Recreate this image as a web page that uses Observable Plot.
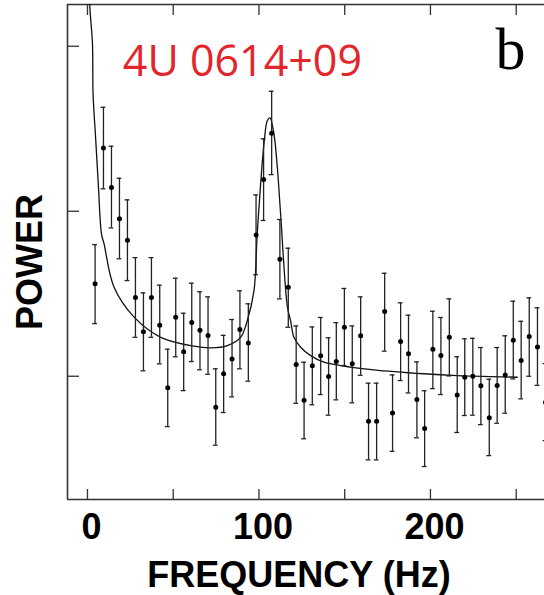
<!DOCTYPE html>
<html>
<head>
<meta charset="utf-8">
<script src="https://cdn.jsdelivr.net/npm/d3@7"></script>
<script src="https://cdn.jsdelivr.net/npm/@observablehq/plot@0.6"></script>
<style>
  html, body { margin: 0; padding: 0; background: #fff; }
  #chart svg { display: block; }
</style>
</head>
<body>
<div id="chart"></div>
<script>
// Observed power spectrum: frequency (Hz), power, lower and upper error
const freq  = [4.43, 9.32, 13.99, 18.65, 23.31, 27.97, 32.63, 37.30, 42.13, 46.80,
               51.46, 56.10, 60.80, 65.60, 70.30, 74.80, 79.40, 84.30, 88.90, 93.80,
               98.30, 102.70, 107.40, 112.20, 117.10, 121.70, 126.30, 131.10, 136.00, 140.60,
               145.10, 149.80, 154.40, 159.30, 163.90, 168.60, 173.30, 177.90, 182.60, 187.20,
               192.10, 196.60, 201.40, 206.10, 211.00, 215.60, 220.00, 224.70, 229.40, 234.30,
               238.90, 243.60, 248.30, 252.90, 257.60, 262.40, 267.10];
const power = [1.560, 2.384, 2.144, 1.954, 1.824, 1.477, 1.269, 1.477, 1.309, 0.930,
               1.358, 1.148, 1.325, 1.279, 1.247, 0.812, 1.015, 1.105, 1.283, 1.202,
               1.856, 2.192, 2.473, 1.709, 1.539, 1.071, 0.855, 1.063, 1.124, 0.998,
               1.089, 1.297, 1.075, 1.245, 0.727, 0.727, 1.392, 0.778, 1.210, 1.136,
               0.859, 0.683, 1.164, 1.125, 1.236, 0.887, 0.994, 1.000, 0.942, 0.748,
               0.944, 1.008, 1.218, 1.095, 1.241, 1.178, 0.841];
const errLo = [1.319, 2.136, 1.899, 1.712, 1.580, 1.236, 1.033, 1.236, 1.075, 0.695,
               1.118, 0.913, 1.089, 1.039, 1.012, 0.582, 0.780, 0.875, 1.045, 0.970,
               1.615, 1.944, 2.222, 1.469, 1.297, 0.836, 0.621, 0.827, 0.889, 0.764,
               0.857, 1.065, 0.839, 1.006, 0.493, 0.493, 1.152, 0.545, 0.974, 0.899,
               0.627, 0.453, 0.925, 0.889, 1.002, 0.659, 0.762, 0.764, 0.707, 0.519,
               0.715, 0.776, 0.984, 0.863, 1.000, 0.945, 0.610];
const errHi = [1.798, 2.630, 2.394, 2.200, 2.069, 1.719, 1.505, 1.719, 1.552, 1.164,
               1.594, 1.382, 1.564, 1.512, 1.481, 1.045, 1.248, 1.344, 1.518, 1.439,
               2.099, 2.439, 2.727, 1.950, 1.776, 1.305, 1.085, 1.299, 1.356, 1.233,
               1.325, 1.532, 1.305, 1.481, 0.958, 0.958, 1.624, 1.008, 1.445, 1.370,
               1.087, 0.912, 1.394, 1.356, 1.469, 1.118, 1.227, 1.230, 1.174, 0.982,
               1.174, 1.245, 1.455, 1.333, 1.475, 1.415, 1.077];

// Fitted model curve
const modelFreq  = [0.9, 1.34, 2.91, 3.26, 4.84, 6.41, 8.16, 9.67, 15.5, 27.2, 42.7, 62.1, 71.9, 81.6,
                    89.3, 93.2, 97.1, 99.1, 103.1, 104.9, 106.4, 108.7, 110.7, 112.6, 116.6,
                    118.4, 120.4, 124.3, 130.1, 137.9, 147.6, 167.0, 196.2, 215.6, 235.0, 250.6];
const modelPower = [3.60, 3.249, 3.015, 2.712, 2.428, 2.145, 1.863, 1.802, 1.539, 1.358, 1.236, 1.182, 1.172, 1.186,
                    1.236, 1.338, 1.519, 1.883, 2.428, 2.550, 2.566, 2.471, 2.267, 1.986, 1.418,
                    1.338, 1.236, 1.176, 1.125, 1.085, 1.065, 1.039, 1.015, 1.004, 0.998, 0.994];

const xTicksMajor = [0, 100, 200];
const xTicksMinor = [0, 50, 100, 150, 200, 250];
const yTicks = [1, 2, 3];

const title = "4U 0614+09";
const panelLabel = "b";
const xLabel = "FREQUENCY (Hz)";
const yLabel = "POWER";

// Build tables
const points = freq.map((f, i) => ({f, p: power[i], lo: errLo[i], hi: errHi[i]}));
const model = modelFreq.map((f, i) => ({f, p: modelPower[i]}));

const xDomain = [-11.65, 266.5];
const yDomain = [0.253, 3.253];
const xPx = (544 - 67) / (xDomain[1] - xDomain[0]);
const yPx = (499 - 4) / (yDomain[1] - yDomain[0]);
const capHalf = 2.4 / xPx;
const sans = "'Liberation Sans', Arial, Helvetica, sans-serif";
const axisColor = "#333";

const chart = Plot.plot({
  width: 544,
  height: 595,
  marginLeft: 67,
  marginRight: 0,
  marginTop: 4,
  marginBottom: 96,
  x: {domain: xDomain, axis: null},
  y: {domain: yDomain, axis: null},
  marks: [
    // frame: left, top, bottom
    Plot.ruleX([xDomain[0]], {y1: yDomain[0], y2: yDomain[1], stroke: axisColor, strokeWidth: 1.6}),
    Plot.ruleY([yDomain[0], yDomain[1]], {stroke: axisColor, strokeWidth: 1.6}),
    // inward ticks
    Plot.ruleX(xTicksMinor, {y1: yDomain[0], y2: yDomain[0] + 10 / yPx, stroke: axisColor, strokeWidth: 1.3}),
    Plot.ruleX(xTicksMinor, {y1: yDomain[1], y2: yDomain[1] - 11 / yPx, stroke: axisColor, strokeWidth: 1.3}),
    Plot.ruleY(yTicks, {x1: xDomain[0], x2: xDomain[0] + 12 / xPx, stroke: axisColor, strokeWidth: 1.3}),
    // tick labels
    Plot.text(xTicksMajor, {x: d => d, frameAnchor: "bottom", lineAnchor: "top", dy: 14, dx: 4,
      text: d => String(d), fontSize: 36, fontWeight: "bold", fontFamily: sans, fill: "#000"}),
    // axis titles
    Plot.text([xLabel], {frameAnchor: "bottom", lineAnchor: "bottom", dy: 87, dx: -7,
      fontSize: 36, fontWeight: "bold", fontFamily: sans, fill: "#000"}),
    Plot.text([yLabel], {frameAnchor: "left", textAnchor: "middle", lineAnchor: "middle", rotate: -90, dx: -37, dy: 10,
      fontSize: 36, fontWeight: "bold", fontFamily: sans, fill: "#000"}),
    // model curve
    Plot.line(model, {x: "f", y: "p", curve: "catmull-rom", stroke: "#111", strokeWidth: 1.3, clip: true}),
    // error bars and caps
    Plot.ruleX(points, {x: "f", y1: "lo", y2: "hi", stroke: "#222", strokeWidth: 1.3, clip: true}),
    Plot.ruleY(points, {y: "hi", x1: d => d.f - capHalf, x2: d => d.f + capHalf, stroke: "#222", strokeWidth: 1.3, clip: true}),
    Plot.ruleY(points, {y: "lo", x1: d => d.f - capHalf, x2: d => d.f + capHalf, stroke: "#222", strokeWidth: 1.3, clip: true}),
    Plot.dot(points, {x: "f", y: "p", r: 2.5, fill: "#000", stroke: "none", clip: true}),
    // annotations
    Plot.text([title], {x: 20.6, y: 2.822, textAnchor: "start", lineAnchor: "bottom",
      fontSize: 43, fontFamily: "'Open Sans', 'Noto Sans', sans-serif", fill: "#e3262b"}),
    Plot.text([panelLabel], {x: 237.9, y: 2.865, textAnchor: "start", lineAnchor: "bottom",
      fontSize: 60, fontFamily: "'Liberation Serif', 'Times New Roman', serif", fill: "#000"})
  ]
});

document.getElementById("chart").appendChild(chart);
</script>
</body>
</html>
